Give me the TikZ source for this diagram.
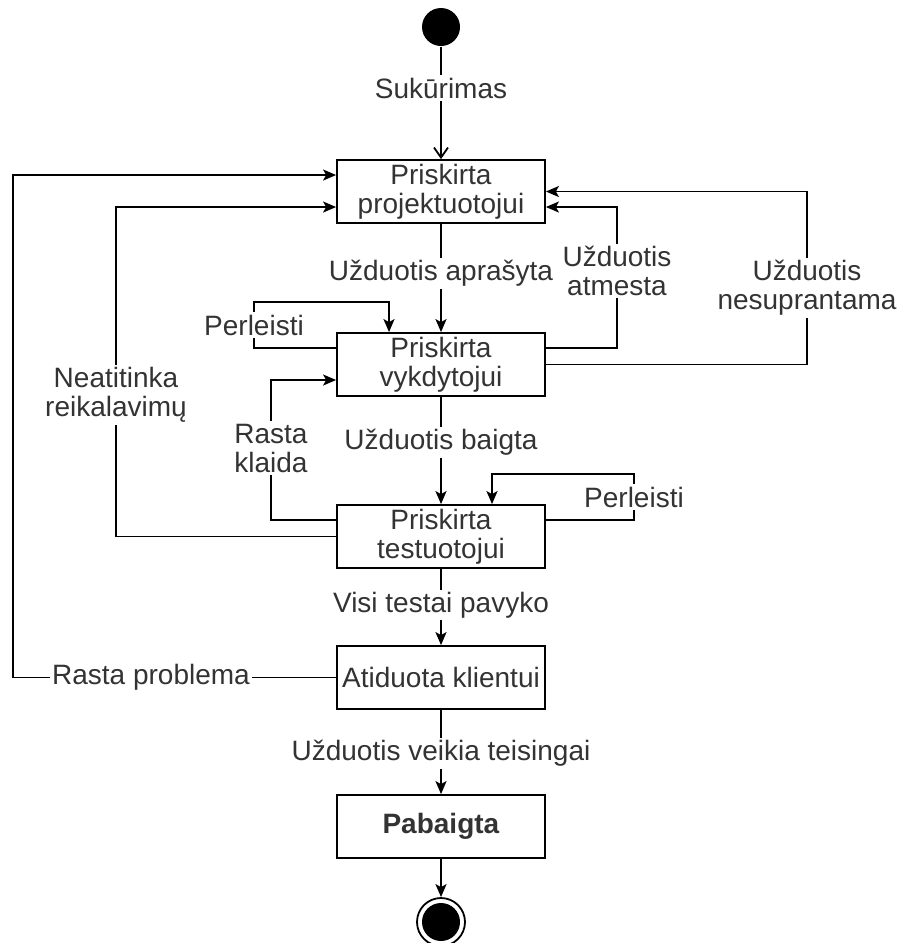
\documentclass[tikz,border=0pt]{standalone}
\usepackage{fontspec}
\setmainfont{Liberation Sans}
\usetikzlibrary{arrows.meta,calc}
\begin{document}
\begin{tikzpicture}[x=0.5pt,y=-0.5pt,
  line width=0.9pt,
  state/.style={draw, minimum width=104pt, minimum height=31.5pt, align=center,
    inner sep=0pt, text=black!80, font=\fontsize{14}{14.5}\selectfont},
  lbl/.style={fill=white, inner sep=1.2pt, align=center, text=black!80,
    font=\fontsize{14}{14.5}\selectfont},
  arr/.style={-{Stealth[length=6.5pt,width=5.5pt,inset=1.5pt]}},
  openarr/.style={-{Straight Barb[length=5pt,width=7pt]}}]
\useasboundingbox (0,0) rectangle (899,943);

% initial and final pseudo-states
\node (start) [circle, fill=black, minimum size=19pt, inner sep=0pt] at (441,27) {};
\node (stop) [circle, draw, minimum size=24pt, inner sep=0pt] at (441,922) {};
\fill (stop.center) circle (9.5pt);

% states
\node (b1) [state] at (441,191.5) {Priskirta\\projektuotojui};
\node (b2) [state] at (441,364.5) {Priskirta\\vykdytojui};
\node (b3) [state] at (441,536.5) {Priskirta\\testuotojui};
\node (b4) [state] at (441,677.5) {Atiduota klientui};
\node (b5) [state] at (441,826.5) {\textbf{Pabaigta}};

% main flow
\draw[openarr] (start) -- (b1);
\draw[arr] (b1) -- (b2);
\draw[arr] (b2) -- (b3);
\draw[arr] (b3) -- (b4);
\draw[arr] (b4) -- (b5);
\draw[arr] (b5) -- (stop);

% back transitions on the left
\draw[arr] (b4.west) -- (13,677.5) |- (b1.west |- 0,175);
\draw[arr] (b3.west) -| (116,207) -- (b1.west |- 0,207);
\draw[arr] ($(b3.west)+(0,-16.5)$) -| (271,380) -- (b2.west |- 0,380);
\draw[arr] ($(b2.west)+(0,-16.5)$) -- (254,348) |- (389,302) -- (b2.north -| 389,0);

% back transitions on the right
\draw[arr] ($(b2.east)+(0,-16.5)$) -| (617,207) -- (b1.east |- 0,207);
\draw[arr] (b2.east) -| (807,191.5) -- (b1.east);
\draw[arr] ($(b3.east)+(0,-16.5)$) -- (634,520) |- (492,474) -- (b3.north -| 492,0);

% transition labels
\node (l1) [lbl] at (441,88) {Sukūrimas};
\node (l2) [lbl] at (441,273) {Užduotis aprašyta};
\node (l3) [lbl] at (441,442) {Užduotis baigta};
\node (l4) [lbl] at (441,605) {Visi testai pavyko};
\node (l5) [lbl] at (441,753) {Užduotis veikia teisingai};
\node (l6) [lbl] at (151,677.5) {Rasta problema};
\node (l7) [lbl] at (116,395) {Neatitinka\\reikalavimų};
\node (l8) [lbl] at (271,448) {Rasta\\klaida};
\node (l9) [lbl] at (254,325) {Perleisti};
\node (l10) [lbl] at (617,271) {Užduotis\\atmesta};
\node (l11) [lbl] at (807,288) {Užduotis\\nesuprantama};
\node (l12) [lbl] at (634,497) {Perleisti};
\end{tikzpicture}
\end{document}
